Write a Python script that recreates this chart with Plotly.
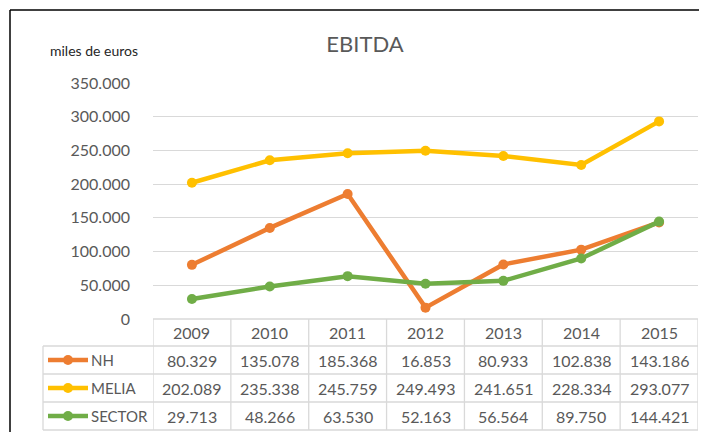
import plotly.graph_objects as go

# ---- data ----
years = ["2009", "2010", "2011", "2012", "2013", "2014", "2015"]
nh = [80329, 135078, 185368, 16853, 80933, 102838, 143186]
melia = [202089, 235338, 245759, 249493, 241651, 228334, 293077]
sector = [29713, 48266, 63530, 52163, 56564, 89750, 144421]
series_names = ["NH", "MELIA", "SECTOR"]
y_ticks = [0, 50000, 100000, 150000, 200000, 250000, 300000, 350000]

colors = {"NH": "#ED7D31", "MELIA": "#FFC000", "SECTOR": "#70AD47"}
series = {"NH": nh, "MELIA": melia, "SECTOR": sector}

OFF = 8  # page body margin
W, H = 707 - OFF, 432 - OFF
PLOT_L, PLOT_R, PLOT_T, PLOT_B = 153, 698, 83, 319
ML, MR, MT, MB = PLOT_L - OFF, 707 - PLOT_R, PLOT_T - OFF, 432 - PLOT_B
PW, PH = PLOT_R - PLOT_L, PLOT_B - PLOT_T
FONT = "Lato, 'Open Sans', sans-serif"
GREY = "#595959"
GRID = "#d9d9d9"


def px_x(px):
    return (px - PLOT_L) / PW


def px_y(py):
    return (PLOT_B - py) / PH


def fmt(v):
    return f"{v:,}".replace(",", ".")


fig = go.Figure()
for name in series_names:
    fig.add_trace(go.Scatter(
        x=years, y=series[name], name=name, mode="lines+markers",
        line=dict(color=colors[name], width=4.5),
        marker=dict(color=colors[name], size=10),
        showlegend=False, cliponaxis=False,
    ))

shapes = []
annotations = []

header_top, row_tops = 319, [346, 374, 402]
table_bottom = 430
legend_left = 43

shapes.append(dict(type="line", xref="paper", yref="paper",
                   x0=0, x1=1, y0=px_y(header_top), y1=px_y(header_top),
                   line=dict(color=GRID, width=1.3)))
for yy in row_tops + [table_bottom]:
    shapes.append(dict(type="line", xref="paper", yref="paper",
                       x0=px_x(legend_left), x1=1, y0=px_y(yy), y1=px_y(yy),
                       line=dict(color=GRID, width=1.3)))
for k in range(len(years) + 1):
    shapes.append(dict(type="line", xref="x", yref="paper",
                       x0=k - 0.5, x1=k - 0.5,
                       y0=px_y(header_top), y1=px_y(table_bottom),
                       line=dict(color=GRID, width=1.3)))
shapes.append(dict(type="line", xref="paper", yref="paper",
                   x0=px_x(legend_left), x1=px_x(legend_left),
                   y0=px_y(row_tops[0]), y1=px_y(table_bottom),
                   line=dict(color=GRID, width=1.3)))

for i, yr in enumerate(years):
    annotations.append(dict(x=i, xref="x", y=px_y((header_top + row_tops[0]) / 2),
                            yref="paper", text=yr, showarrow=False,
                            font=dict(family=FONT, size=16, color=GREY),
                            xanchor="center", yanchor="middle"))

bounds = row_tops + [table_bottom]
for r, name in enumerate(series_names):
    cy = (bounds[r] + bounds[r + 1]) / 2
    for i, v in enumerate(series[name]):
        annotations.append(dict(x=i, xref="x", y=px_y(cy), yref="paper",
                                text=fmt(v), showarrow=False,
                                font=dict(family=FONT, size=16, color=GREY),
                                xanchor="center", yanchor="middle"))
    annotations.append(dict(x=px_x(89), xref="paper", y=px_y(cy), yref="paper",
                            text=name, showarrow=False,
                            font=dict(family=FONT, size=15, color=GREY),
                            xanchor="left", yanchor="middle"))
    shapes.append(dict(type="line", xref="paper", yref="paper",
                       x0=px_x(48), x1=px_x(88), y0=px_y(cy), y1=px_y(cy),
                       line=dict(color=colors[name], width=4.5)))
    shapes.append(dict(type="circle", xref="paper", yref="paper",
                       xsizemode="pixel", ysizemode="pixel",
                       xanchor=px_x(68), yanchor=px_y(cy),
                       x0=-5, x1=5, y0=-5, y1=5,
                       fillcolor=colors[name], line=dict(width=0)))

# outer chart border (left and top visible)
shapes.append(dict(type="line", xref="paper", yref="paper",
                   x0=px_x(10), x1=px_x(10), y0=px_y(10), y1=px_y(440),
                   line=dict(color="black", width=1.5)))
shapes.append(dict(type="line", xref="paper", yref="paper",
                   x0=px_x(10), x1=px_x(715), y0=px_y(10), y1=px_y(10),
                   line=dict(color="black", width=1.5)))

annotations.append(dict(x=px_x(94), xref="paper", y=px_y(51), yref="paper",
                        text="miles de euros", showarrow=False,
                        font=dict(family=FONT, size=14, color="#262626"),
                        xanchor="center", yanchor="middle"))

fig.update_layout(
    width=W, height=H,
    margin=dict(l=ML, r=MR, t=MT, b=MB),
    paper_bgcolor="white", plot_bgcolor="white",
    separators=",.",
    title=dict(text="EBITDA", x=(365 - OFF) / W, y=1 - (44.5 - OFF) / H,
               xanchor="center", yanchor="middle",
               font=dict(family=FONT, size=22, color=GREY)),
    shapes=shapes, annotations=annotations,
    xaxis=dict(type="category", categoryorder="array", categoryarray=years,
               range=[-0.5, len(years) - 0.5], showticklabels=False,
               showgrid=False, zeroline=False, showline=False, ticks=""),
    yaxis=dict(range=[0, 350000], tickvals=y_ticks, tickformat=",d",
               showgrid=True, gridcolor=GRID, gridwidth=1.3,
               zeroline=False, showline=False, ticks="",
               ticklabelstandoff=22,
               tickfont=dict(family=FONT, size=16, color=GREY)),
)

fig.write_html("out.html")
